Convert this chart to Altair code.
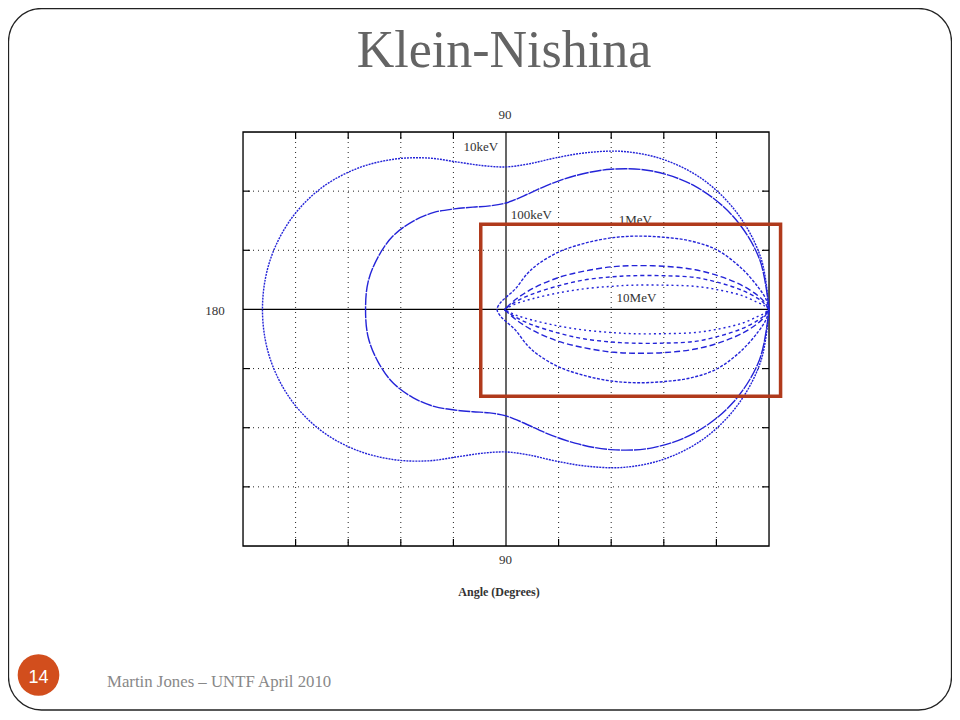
import altair as alt
import pandas as pd

# ---------------- data (grid units) ----------------
# upper half of each curve, from the forward direction (right) round to the back (left);
# the lower half is the mirror image
curve_names = ["10keV", "100keV", "1MeV", "curveA", "curveB", "10MeV"]

keV10_x = [5.00, 4.85, 4.41, 3.77, 3.01, 2.24, 1.53, 0.93, 0.43, 0.00, -0.43, -0.91, -1.48, -2.13, -2.84, -3.53, -4.11, -4.50, -4.63]
keV10_y = [0.00, 0.86, 1.61, 2.18, 2.53, 2.67, 2.65, 2.56, 2.46, 2.41, 2.43, 2.49, 2.56, 2.54, 2.38, 2.04, 1.50, 0.79, 0.00]

keV100_x = [5.00, 4.82, 4.32, 3.60, 2.78, 1.99, 1.31, 0.76, 0.34, 0.00, -0.31, -0.63, -0.98, -1.37, -1.77, -2.15, -2.43, -2.62, -2.67]
keV100_y = [0.00, 0.85, 1.57, 2.08, 2.34, 2.37, 2.26, 2.09, 1.92, 1.80, 1.75, 1.73, 1.70, 1.64, 1.49, 1.24, 0.89, 0.47, 0.00]

MeV1_x = [5.00, 4.95, 4.80, 4.46, 4.00, 3.50, 3.00, 2.50, 2.00, 1.50, 1.00, 0.60, 0.40, 0.18, 0.02, -0.10, -0.17]
MeV1_y = [0.00, 0.16, 0.37, 0.71, 1.01, 1.16, 1.22, 1.24, 1.21, 1.12, 0.97, 0.76, 0.60, 0.35, 0.22, 0.12, 0.00]

inner_x = [5.00, 4.90, 4.78, 4.50, 4.10, 3.60, 3.00, 2.40, 2.00, 1.50, 1.00, 0.50, 0.20, 0.03, -0.03]
curveA_y = [0.00, 0.14, 0.24, 0.40, 0.55, 0.67, 0.73, 0.74, 0.72, 0.65, 0.54, 0.35, 0.18, 0.05, 0.00]
curveB_y = [0.00, 0.11, 0.19, 0.32, 0.44, 0.54, 0.57, 0.57, 0.55, 0.50, 0.40, 0.26, 0.14, 0.04, 0.00]
MeV10_y = [0.00, 0.07, 0.12, 0.23, 0.32, 0.39, 0.41, 0.41, 0.39, 0.35, 0.28, 0.18, 0.10, 0.03, 0.00]

curve_dash = [[2, 1], [12, 1], [3, 1.5], [6, 3], [4, 3], [2, 3]]

grid_x = [-4, -3, -2, -1, 1, 2, 3, 4]
grid_y = [-3, -2, -1, 1, 2]
zero_line = [0]

label_text = ["10keV", "100keV", "1MeV", "10MeV"]
label_x = [-0.48, 0.48, 2.46, 2.48]
label_y = [2.75, 1.59, 1.51, 0.20]

box_x, box_x2 = [-0.48], [5.22]
box_y, box_y2 = [1.44], [-1.47]

BLUE = "#2424d8"
W, H = 526, 414


def closed(xs, ys):
    fx = list(xs) + list(xs[-2::-1])
    fy = list(ys) + [-v for v in ys[-2::-1]]
    return fx, fy


rows = []
for name, xs_, ys_ in [
    ("10keV", keV10_x, keV10_y),
    ("100keV", keV100_x, keV100_y),
    ("1MeV", MeV1_x, MeV1_y),
    ("curveA", inner_x, curveA_y),
    ("curveB", inner_x, curveB_y),
    ("10MeV", inner_x, MeV10_y),
]:
    fx, fy = closed(xs_, ys_)
    for i, (a, b) in enumerate(zip(fx, fy)):
        rows.append({"curve": name, "i": i, "x": a, "y": b})
df = pd.DataFrame(rows)

xs = alt.Scale(domain=[-5, 5], nice=False, zero=False)
ys = alt.Scale(domain=[-4, 3], nice=False, zero=False)
one = pd.DataFrame({"k": [0]})

vgrid = alt.Chart(pd.DataFrame({"gx": grid_x})).mark_rule(
    color="#222", strokeDash=[1, 4], strokeWidth=1
).encode(x=alt.X("gx:Q", scale=xs, axis=None))
hgrid = alt.Chart(pd.DataFrame({"gy": grid_y})).mark_rule(
    color="#222", strokeDash=[1, 4], strokeWidth=1
).encode(y=alt.Y("gy:Q", scale=ys, axis=None))

vzero = alt.Chart(pd.DataFrame({"z": zero_line})).mark_rule(color="black", strokeWidth=1.2).encode(
    x=alt.X("z:Q", scale=xs, axis=None))
hzero = alt.Chart(pd.DataFrame({"z": zero_line})).mark_rule(color="black", strokeWidth=1.2).encode(
    y=alt.Y("z:Q", scale=ys, axis=None))

tx = pd.DataFrame({"gx": grid_x})
ty = pd.DataFrame({"gy": grid_y})
tick_b = alt.Chart(tx).mark_rule(color="black", strokeWidth=1.2).encode(
    x=alt.X("gx:Q", scale=xs, axis=None), y=alt.value(H), y2=alt.value(H - 7))
tick_t = alt.Chart(tx).mark_rule(color="black", strokeWidth=1.2).encode(
    x=alt.X("gx:Q", scale=xs, axis=None), y=alt.value(0), y2=alt.value(7))
tick_l = alt.Chart(ty).mark_rule(color="black", strokeWidth=1.2).encode(
    y=alt.Y("gy:Q", scale=ys, axis=None), x=alt.value(0), x2=alt.value(7))
tick_r = alt.Chart(ty).mark_rule(color="black", strokeWidth=1.2).encode(
    y=alt.Y("gy:Q", scale=ys, axis=None), x=alt.value(W), x2=alt.value(W - 7))

frame = alt.Chart(one).mark_rect(fillOpacity=0, stroke="black", strokeWidth=1.3).encode(
    x=alt.value(0), x2=alt.value(W), y=alt.value(0), y2=alt.value(H))

curves = alt.Chart(df).mark_line(interpolate="catmull-rom", strokeWidth=1.4, color=BLUE).encode(
    x=alt.X("x:Q", scale=xs, axis=None),
    y=alt.Y("y:Q", scale=ys, axis=None),
    order=alt.Order("i:Q"),
    strokeDash=alt.StrokeDash("curve:N", scale=alt.Scale(domain=curve_names, range=curve_dash), legend=None),
)

labels = alt.Chart(pd.DataFrame({"t": label_text, "lx": label_x, "ly": label_y})).mark_text(
    font="Liberation Serif", fontSize=13, color="#333", align="center", baseline="middle"
).encode(x=alt.X("lx:Q", scale=xs, axis=None), y=alt.Y("ly:Q", scale=ys, axis=None), text="t:N")

redbox = alt.Chart(pd.DataFrame({"x1": box_x, "x2": box_x2, "y1": box_y, "y2": box_y2})).mark_rect(
    fillOpacity=0, stroke="#b03a1c", strokeWidth=3.5
).encode(x=alt.X("x1:Q", scale=xs, axis=None), x2="x2:Q",
         y=alt.Y("y1:Q", scale=ys, axis=None), y2="y2:Q")


def txt(text, x, y, **kw):
    return alt.Chart(one).mark_text(text=text, **kw).encode(x=alt.value(x), y=alt.value(y))


ax_top = txt("90", 262, -17, font="Liberation Serif", fontSize=13, color="#333", baseline="middle")
ax_bot = txt("90", 262.5, 427.5, font="Liberation Serif", fontSize=13, color="#333", baseline="middle")
ax_left = txt("180", -28, 178.5, font="Liberation Serif", fontSize=13, color="#333", baseline="middle")
ax_title = txt("Angle (Degrees)", 256, 460, font="Liberation Serif", fontSize=12, fontWeight="bold",
               color="#333", baseline="middle")

title = txt("Klein-Nishina", 261, -65, font="Liberation Serif", fontSize=52, color="#646464",
            baseline="alphabetic")

border = alt.Chart(one).mark_rect(cornerRadius=33, fillOpacity=0, stroke="#222", strokeWidth=1.3).encode(
    x=alt.value(-234.5), x2=alt.value(708.5), y=alt.value(-123.5), y2=alt.value(578))

circle = alt.Chart(one).mark_circle(size=1735, color="#d24e1d", opacity=1).encode(
    x=alt.value(-204.5), y=alt.value(543))
page_no = txt("14", -204.5, 550.5, font="Liberation Sans", fontSize=18, color="white", baseline="alphabetic")
footer = txt("Martin Jones \u2013 UNTF April 2010", -136, 554.5, font="Liberation Serif", fontSize=16.8,
             color="#888888", align="left", baseline="alphabetic")

chart = alt.layer(
    border, title, vgrid, hgrid, vzero, hzero, tick_b, tick_t, tick_l, tick_r, frame,
    curves, labels, redbox, ax_top, ax_bot, ax_left, ax_title, circle, page_no, footer
).properties(
    width=W, height=H,
    padding={"left": 235, "top": 124, "right": 183, "bottom": 166},
    autosize=alt.AutoSizeParams(type="none"),
).configure_view(strokeWidth=0).configure(background="white")

chart.save("out.html", embed_options={"renderer": "svg", "actions": False})
